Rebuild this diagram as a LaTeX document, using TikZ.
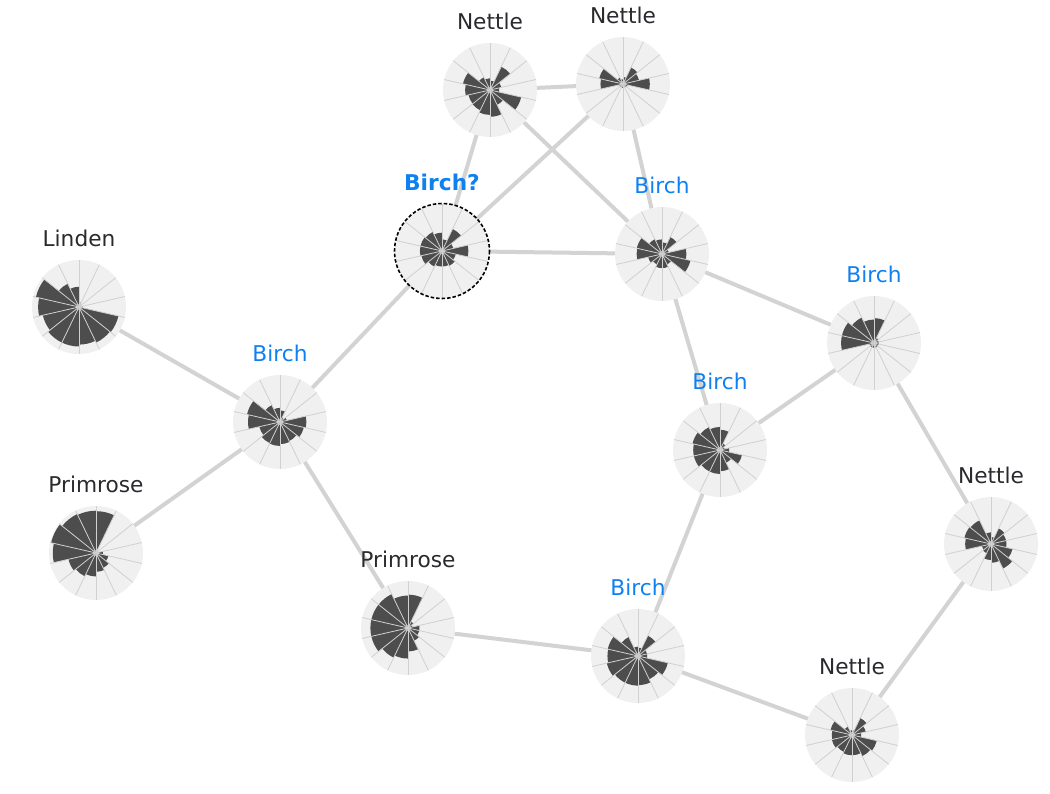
\documentclass[tikz,border=0pt]{standalone}
\usepackage{fontspec}
\setmainfont{DejaVu Sans}
\definecolor{bgc}{HTML}{F0F0F0}
\definecolor{barc}{HTML}{4D4D4D}
\definecolor{spokec}{HTML}{D0D0D0}
\definecolor{edgec}{HTML}{D3D3D3}
\definecolor{txtc}{HTML}{2A2A2E}
\definecolor{bluec}{HTML}{0F80F0}
\pgfdeclarelayer{bg}
\pgfsetlayers{bg,main}
\tikzset{
  rosebg/.style={circle, fill=bgc, minimum size=94pt, inner sep=0pt, draw=none},
  link/.style={draw=edgec, line width=4pt},
  lab/.style={anchor=base, inner sep=0pt, text=txtc, font=\fontsize{21.7}{24}\selectfont},
  blab/.style={lab, text=bluec},
  qlab/.style={lab, text=bluec, font=\fontsize{21.7}{24}\selectfont\bfseries},
  spoke/.style={draw=spokec, line width=0.8pt},
  barfill/.style={fill=barc},
  qring/.style={draw=black, line width=1.6pt, dash pattern=on 3.5pt off 2pt},
}
\newcommand\rosebars[2]{%
  \begin{scope}[shift={(#1.center)}, yscale=-1]
    \foreach \rr [count=\k from 0] in {#2} {
      \pgfmathsetmacro\aone{90-\k*360/14}
      \pgfmathsetmacro\atwo{90-(\k+1)*360/14}
      \pgfmathsetmacro\rad{\rr*47}
      \fill[barfill] (0,0) -- (\aone:\rad) arc[start angle=\aone, end angle=\atwo, radius=\rad] -- cycle;
    }
    \foreach \k in {0,...,13} \draw[spoke] (0,0) -- ({90+\k*360/14}:47);
    \draw[spoke, line width=0.6pt] (0,0) circle (2.5);
  \end{scope}%
}
\begin{document}
\begin{tikzpicture}[x=1pt,y=-1pt]
\useasboundingbox (0,0) rectangle (1050,794);
% nodes
\node[rosebg] (n1) at (490,90) {};
\node[rosebg] (n2) at (623,84) {};
\node[rosebg] (n3) at (442,251) {};
\node[rosebg] (n4) at (662,254) {};
\node[rosebg] (n5) at (79,307) {};
\node[rosebg] (n6) at (874,343) {};
\node[rosebg] (n7) at (280,422) {};
\node[rosebg] (n8) at (720,450) {};
\node[rosebg] (n9) at (96,553) {};
\node[rosebg] (n10) at (991,544) {};
\node[rosebg] (n11) at (408,628) {};
\node[rosebg] (n12) at (638,656) {};
\node[rosebg] (n13) at (852,735) {};
% edges
\begin{pgfonlayer}{bg}
\draw[link] (n1.center) -- (n2.center);
\draw[link] (n1.center) -- (n3.center);
\draw[link] (n1.center) -- (n4.center);
\draw[link] (n2.center) -- (n3.center);
\draw[link] (n2.center) -- (n4.center);
\draw[link] (n3.center) -- (n4.center);
\draw[link] (n3.center) -- (n7.center);
\draw[link] (n4.center) -- (n6.center);
\draw[link] (n4.center) -- (n8.center);
\draw[link] (n5.center) -- (n7.center);
\draw[link] (n7.center) -- (n9.center);
\draw[link] (n7.center) -- (n11.center);
\draw[link] (n6.center) -- (n8.center);
\draw[link] (n6.center) -- (n10.center);
\draw[link] (n8.center) -- (n12.center);
\draw[link] (n11.center) -- (n12.center);
\draw[link] (n12.center) -- (n13.center);
\draw[link] (n10.center) -- (n13.center);
\end{pgfonlayer}
% rose bars
\rosebars{n1}{.2,.55,.25,.2,.68,.35,.57,.53,.48,.47,.53,.59,.3,.25}
\rosebars{n2}{.15,.39,.35,.57,.1,.08,.08,.08,.08,.08,.48,.52,.15,.1}
\rosebars{n3}{.25,.52,.25,.56,.3,.35,.33,.33,.37,.45,.47,.47,.45,.39}
\rosebars{n4}{.25,.4,.15,.52,.62,.25,.3,.3,.25,.3,.54,.55,.35,.31}
\rosebars{n5}{.1,.05,.05,.08,.86,.84,.8,.84,.84,.79,.87,.94,.55,.43}
\rosebars{n6}{.53,.12,.1,.1,.1,.1,.1,.1,.1,.1,.7,.7,.6,.5}
\rosebars{n7}{.25,.1,.15,.56,.52,.45,.47,.51,.5,.45,.68,.72,.4,.3}
\rosebars{n8}{.43,.15,.1,.2,.48,.3,.45,.51,.51,.57,.57,.6,.54,.49}
\rosebars{n9}{.89,.02,.02,.15,.27,.35,.4,.5,.55,.6,.92,.98,.92,.9}
\rosebars{n10}{.15,.37,.33,.33,.47,.58,.4,.34,.22,.2,.55,.58,.56,.25}
\rosebars{n11}{.71,.15,.1,.25,.25,.3,.5,.65,.7,.8,.8,.8,.8,.69}
\rosebars{n12}{.18,.48,.2,.2,.65,.55,.62,.63,.63,.68,.65,.66,.45,.2}
\rosebars{n13}{.1,.4,.3,.2,.54,.5,.43,.43,.4,.44,.43,.47,.2,.1}
% dashed ring for the query node
\draw[qring] (n3.center) circle (47.5);
% labels
\node[lab]  (l1)  at (490,29.5)  {Nettle};
\node[lab]  (l2)  at (623,23.5)  {Nettle};
\node[qlab] (l3)  at (442,190.5) {Birch?};
\node[blab] (l4)  at (662,193.5) {Birch};
\node[lab]  (l5)  at (79,246.5)  {Linden};
\node[blab] (l6)  at (874,282.5) {Birch};
\node[blab] (l7)  at (280,361.5) {Birch};
\node[blab] (l8)  at (720,389.5) {Birch};
\node[lab]  (l9)  at (96,492.5)  {Primrose};
\node[lab]  (l10) at (991,483.5) {Nettle};
\node[lab]  (l11) at (408,567.5) {Primrose};
\node[blab] (l12) at (638,595.5) {Birch};
\node[lab]  (l13) at (852,674.5) {Nettle};
\end{tikzpicture}
\end{document}
